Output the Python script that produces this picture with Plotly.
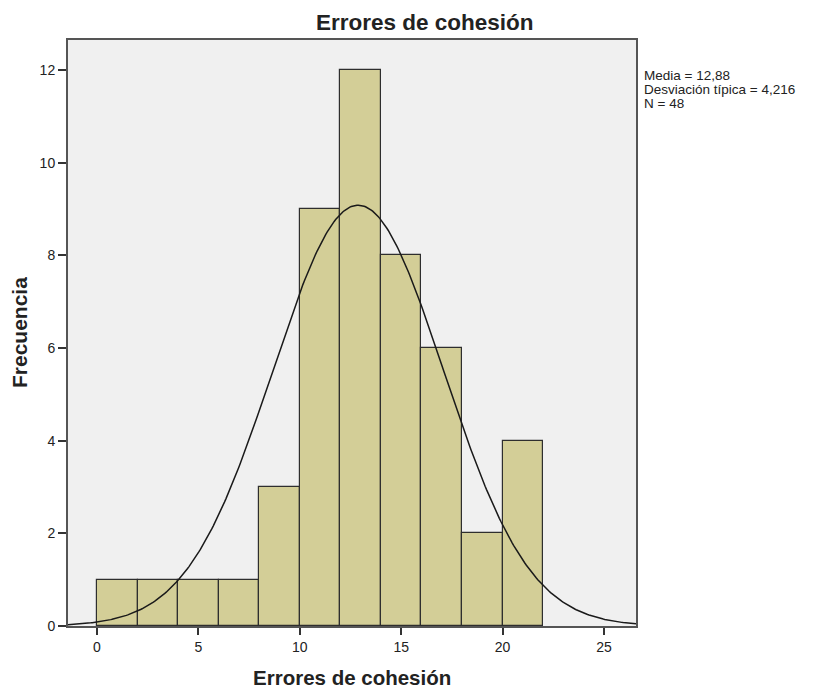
import numpy as np
import plotly.graph_objects as go

bin_starts = [0, 2, 4, 6, 8, 10, 12, 14, 16, 18, 20]
counts = [1, 1, 1, 1, 3, 9, 12, 8, 6, 2, 4]
bin_width = 2
mean = 12.88
sd = 4.216
n = 48
x_ticks = [0, 5, 10, 15, 20, 25]
y_ticks = [0, 2, 4, 6, 8, 10, 12]
stats_lines = ["Media = 12,88", "Desviación típica = 4,216", f"N = {n}"]

x_range = [-1.43, 26.58]
y_range = [0, 12.65]

centers = [s + bin_width / 2 for s in bin_starts]
xs = np.linspace(x_range[0], x_range[1], 400)
ys = n * bin_width / (sd * np.sqrt(2 * np.pi)) * np.exp(-0.5 * ((xs - mean) / sd) ** 2)

L, R, T, B = 68, 177, 40, 63
W, H = 813, 689
pw, ph = W - L - R, H - T - B

def px_x(p):
    return (p - L) / pw

def px_y(p):
    return (H - B - p) / ph

fig = go.Figure()
fig.add_trace(go.Bar(x=centers, y=counts, width=bin_width,
                     marker=dict(color="#d3ce97", line=dict(color="#2e2e2e", width=1.2)),
                     showlegend=False, hoverinfo="skip"))
fig.add_trace(go.Scatter(x=xs, y=ys, mode="lines", line=dict(color="#1a1a1a", width=1.5),
                         showlegend=False, hoverinfo="skip"))

fig.update_layout(
    width=W, height=H,
    margin=dict(l=L, r=R, t=T, b=B),
    paper_bgcolor="white", plot_bgcolor="#f0f0f0",
    font=dict(family="Liberation Sans, Arial, sans-serif", color="#222", size=13),
    bargap=0,
)
fig.update_xaxes(range=x_range, tickvals=x_ticks, ticks="outside", ticklen=7, tickcolor="#333",
                 tickwidth=1.5, tickfont=dict(size=14), automargin=False,
                 showgrid=False, zeroline=False, showline=True, linecolor="#555", linewidth=2, mirror=True)
fig.update_yaxes(range=y_range, tickvals=y_ticks, ticks="outside", ticklen=8, tickcolor="#333",
                 tickwidth=1.5, tickfont=dict(size=14), automargin=False,
                 showgrid=False, zeroline=False, showline=True, linecolor="#555", linewidth=2, mirror=True)

fig.add_annotation(text="<b>Errores de cohesión</b>", xref="paper", yref="paper",
                   x=px_x(425), y=px_y(23), xanchor="center", yanchor="middle",
                   showarrow=False, font=dict(size=22.5))
fig.add_annotation(text="<b>Errores de cohesión</b>", xref="paper", yref="paper",
                   x=px_x(352), y=px_y(677), xanchor="center", yanchor="middle",
                   showarrow=False, font=dict(size=20.5))
fig.add_annotation(text="<b>Frecuencia</b>", xref="paper", yref="paper",
                   x=px_x(19), y=px_y(333), xanchor="center", yanchor="middle", textangle=-90,
                   showarrow=False, font=dict(size=21))
for i, line in enumerate(stats_lines):
    fig.add_annotation(text=line, xref="paper", yref="paper",
                       x=px_x(642), y=px_y(75 + 14.5 * i), xanchor="left", yanchor="middle",
                       align="left", showarrow=False, font=dict(size=13.5))

fig.write_html("out.html", config={"displayModeBar": False},
               post_script="document.body.style.margin='0';document.body.style.padding='0';")
